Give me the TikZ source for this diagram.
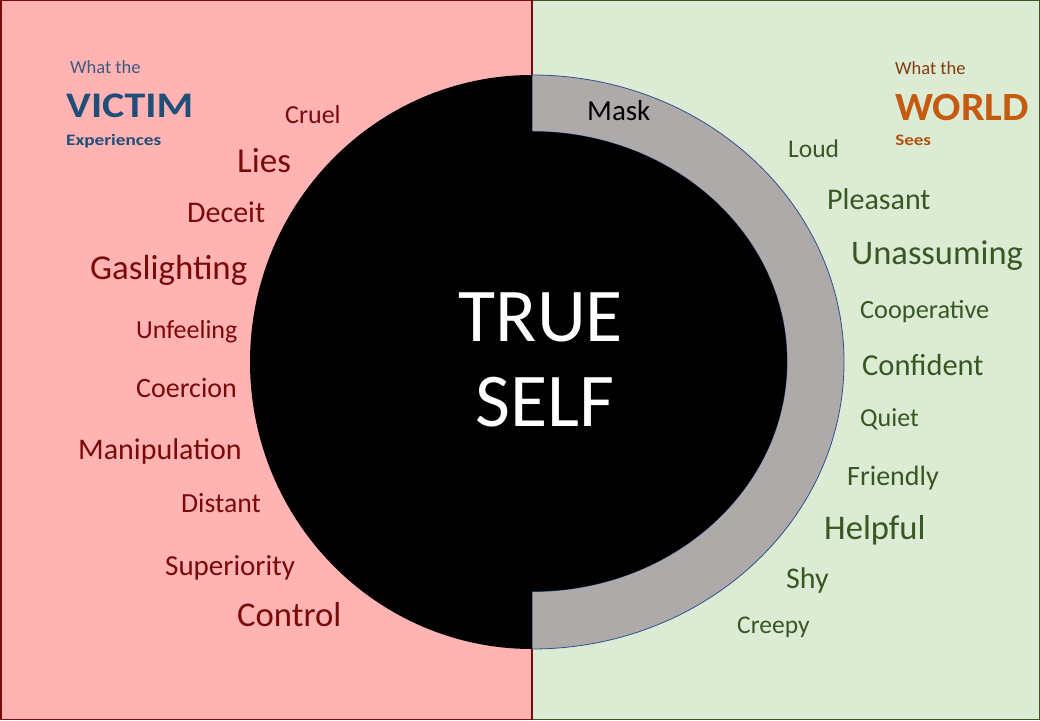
\documentclass[tikz,border=0pt]{standalone}
\usepackage{fontspec}
\setmainfont{Carlito}
\definecolor{bgpink}{HTML}{FFB3B3}
\definecolor{bggreen}{HTML}{DCEBD4}
\definecolor{maroonline}{HTML}{7A0A0A}
\definecolor{greenline}{HTML}{385723}
\definecolor{maskgray}{HTML}{AEAAAA}
\definecolor{ringline}{HTML}{2F528F}
\definecolor{leftword}{HTML}{7A0A0A}
\definecolor{rightword}{HTML}{385723}
\definecolor{victimblue}{HTML}{1F4E79}
\definecolor{whatblue}{HTML}{3E5A80}
\definecolor{worldorange}{HTML}{C55A11}
\definecolor{whatbrown}{HTML}{843C0C}
\tikzset{
  fs/.style={font=\fontsize{#1}{#1}\selectfont},
  fsb/.style={font=\fontsize{#1}{#1}\selectfont\bfseries},
  lword/.style={inner sep=0pt, anchor=base west, text=leftword},
  rword/.style={inner sep=0pt, anchor=base west, text=rightword},
  hword/.style={inner sep=0pt, anchor=base west},
}
\begin{document}
\begin{tikzpicture}[x=1pt,y=1pt]
\useasboundingbox (0,0) rectangle (1040,720);
% panels
\fill[bggreen] (532,0) rectangle (1040,720);
\draw[greenline, line width=1.5pt] (532,0.75) -- (1039.25,0.75) -- (1039.25,719.25) -- (532,719.25);
\fill[bgpink] (0,0) rectangle (532,720);
\draw[maroonline, line width=1.5pt] (0.75,0.75) rectangle (532,719.25);
% circle
\filldraw[fill=maskgray, draw=ringline, line width=0.8pt] (532,645) arc[start angle=90, end angle=-90, x radius=312, y radius=287] -- cycle;
\fill[black] (532,645) arc[start angle=90, end angle=270, x radius=282, y radius=287] -- cycle;
\draw[ringline, line width=0.8pt] (532,588.5) arc[start angle=90, end angle=-90, x radius=255, y radius=230];
\fill[black] (532,588.5) arc[start angle=90, end angle=-90, x radius=255, y radius=230] -- cycle;
\node[inner sep=0pt, anchor=base, text=white, fs=76] (true) at (541,378) {TRUE};
\node[inner sep=0pt, anchor=base, text=white, fs=76] (self) at (545,293) {SELF};
% headers
\node[hword, text=whatblue, fs=18.5] (whatl) at (70,646) {What the};
\node[hword, text=victimblue, fsb=36, xscale=1.165] (victim) at (66,602) {VICTIM};
\node[hword, text=victimblue, fsb=16, xscale=1.2] (exper) at (66,574) {Experiences};
\node[hword, text=whatbrown, fs=18.5] (whatr) at (895,645) {What the};
\node[hword, text=worldorange, fsb=40, xscale=1.05] (world) at (895,599) {WORLD};
\node[hword, text=worldorange!90!black, fsb=16, xscale=1.19] (sees) at (895,574) {Sees};
% left words
\node[lword, fs=26] (cruel) at (285,596) {Cruel};
\node[lword, fs=35] (lies) at (237,547) {Lies};
\node[lword, fs=30] (deceit) at (187,497) {Deceit};
\node[lword, fs=34.9] (gas) at (90,440) {Gaslighting};
\node[lword, fs=26] (unfeel) at (136,381) {Unfeeling};
\node[lword, fs=28] (coerc) at (136,322) {Coercion};
\node[lword, fs=30] (manip) at (78,260.5) {Manipulation};
\node[lword, fs=27.7] (dist) at (181,207.5) {Distant};
\node[lword, fs=29] (super) at (165,145) {Superiority};
\node[lword, fs=34.7] (control) at (237,94) {Control};
% right words
\node[hword, text=black, fs=29] (mask) at (587,599) {Mask};
\node[rword, fs=25.5] (loud) at (788,562) {Loud};
\node[rword, fs=30] (pleas) at (827,510.5) {Pleasant};
\node[rword, fs=34.5] (unass) at (851,455) {Unassuming};
\node[rword, fs=26.3] (coop) at (860,401) {Cooperative};
\node[rword, fs=30.5] (conf) at (862,344.5) {Confident};
\node[rword, fs=26] (quiet) at (860,293) {Quiet};
\node[rword, fs=28] (friend) at (847,234) {Friendly};
\node[rword, fs=34.6] (help) at (824,180) {Helpful};
\node[rword, fs=30] (shy) at (786,131.5) {Shy};
\node[rword, fs=25.5] (creepy) at (737,87) {Creepy};
\end{tikzpicture}
\end{document}
